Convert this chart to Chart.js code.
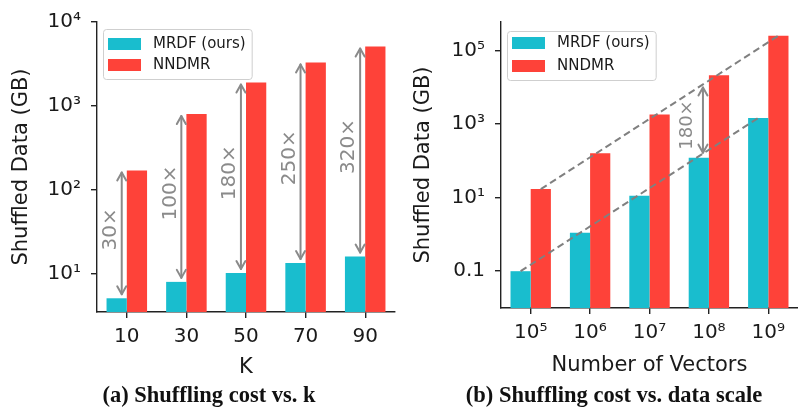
<!DOCTYPE html>
<html>
<head>
<meta charset="utf-8">
<script src="https://cdn.jsdelivr.net/npm/chart.js@4.4.1/dist/chart.umd.min.js"></script>
<style>
  html, body { margin: 0; padding: 0; background: #fff; overflow: hidden; }
  body { width: 798px; height: 410px; position: relative; }
  .panel { position: absolute; top: 0; width: 400px; height: 385px; }
  .caption {
    position: absolute; top: 384px;
    font-family: 'Liberation Serif', 'Times New Roman', serif;
    font-weight: bold; font-size: 22.5px; line-height: 22px; color: #111;
    white-space: nowrap; transform: translateX(-50%);
  }
</style>
</head>
<body>
<div class="panel" style="left:0"><canvas id="chartK"></canvas></div>
<div class="panel" style="left:400px"><canvas id="chartScale"></canvas></div>
<div class="caption" style="left:209px">(a) Shuffling cost vs. k</div>
<div class="caption" style="left:614px">(b) Shuffling cost vs. data scale</div>

<script>
// ---- (a) shuffled data vs. K ----
const kCategories = ['10', '30', '50', '70', '90'];
const kMrdf = [5.1, 8, 10.2, 13.4, 16];
const kNndmr = [170, 800, 1900, 3300, 5100];
const kRatioLabels = ['30×', '100×', '180×', '250×', '320×'];
const kYTicks = [10, 100, 1000, 10000];
const kYTickLabels = ['10¹', '10²', '10³', '10⁴'];

// ---- (b) shuffled data vs. number of vectors ----
const scaleCategories = ['10⁵', '10⁶', '10⁷', '10⁸', '10⁹'];
const scaleMrdf = [0.1, 1.1, 11.3, 120, 1450];
const scaleNndmr = [17, 160, 1800, 21000, 250000];
const scaleYTicks = [0.1, 10, 1000, 100000];
const scaleYTickLabels = ['0.1', '10¹', '10³', '10⁵'];
const scaleGapIndex = 3;
const scaleGapLabel = '180×';

const SERIES_NAMES = ['MRDF (ours)', 'NNDMR'];
const TEAL = '#19bdce';
const RED = '#fe4239';
const GRAY = '#8a8a8a';
const INK = '#1a1a1a';
const AXIS = '#222';
const FONT = "'DejaVu Sans', sans-serif";

function drawDoubleArrow(ctx, x, yTop, yBottom) {
  const hl = 8, hw = 4.5;
  ctx.save();
  ctx.strokeStyle = GRAY;
  ctx.lineWidth = 2;
  ctx.lineCap = 'round';
  ctx.lineJoin = 'round';
  ctx.beginPath();
  ctx.moveTo(x, yTop); ctx.lineTo(x, yBottom);
  ctx.stroke();
  ctx.beginPath();
  ctx.moveTo(x - hw, yTop + hl); ctx.lineTo(x, yTop); ctx.lineTo(x + hw, yTop + hl);
  ctx.stroke();
  ctx.beginPath();
  ctx.moveTo(x - hw, yBottom - hl); ctx.lineTo(x, yBottom); ctx.lineTo(x + hw, yBottom - hl);
  ctx.stroke();
  ctx.restore();
}

function drawVerticalText(ctx, text, x, y, size) {
  ctx.save();
  ctx.translate(x, y);
  ctx.rotate(-Math.PI / 2);
  ctx.font = size + 'px ' + FONT;
  ctx.fillStyle = GRAY;
  ctx.textAlign = 'center';
  ctx.textBaseline = 'middle';
  ctx.fillText(text, 0, 0);
  ctx.restore();
}

// Framed legend placed inside the plot area
const boxedLegend = {
  id: 'boxedLegend',
  afterDraw(chart, args, opts) {
    const ctx = chart.ctx;
    const a = chart.chartArea;
    const x0 = a.left + opts.dx, y0 = a.top + opts.dy;
    ctx.save();
    ctx.font = '15px ' + FONT;
    const items = chart.data.datasets.map(d => ({ label: d.label, color: d.backgroundColor }));
    const tw = Math.max(...items.map(it => ctx.measureText(it.label).width));
    const w = 5 + 33 + 12 + tw + 6;
    const h = opts.height;
    ctx.beginPath();
    ctx.roundRect(x0 + 0.5, y0 + 0.5, w, h, 3);
    ctx.fillStyle = 'rgba(255,255,255,0.85)';
    ctx.fill();
    ctx.strokeStyle = '#cfcfcf';
    ctx.lineWidth = 1;
    ctx.stroke();
    items.forEach((it, i) => {
      const cy = y0 + opts.first + i * opts.gap;
      ctx.fillStyle = it.color;
      ctx.fillRect(x0 + 5, cy - 6, 33, 12);
      ctx.fillStyle = INK;
      ctx.textAlign = 'left';
      ctx.textBaseline = 'middle';
      ctx.fillText(it.label, x0 + 5 + 33 + 12, cy);
    });
    ctx.restore();
  }
};

// Ratio arrows between the two bars of every K
const ratioArrows = {
  id: 'ratioArrows',
  afterDatasetsDraw(chart) {
    const ctx = chart.ctx;
    const xs = chart.scales.x, ys = chart.scales.y;
    const step = xs.getPixelForValue(1) - xs.getPixelForValue(0);
    kCategories.forEach((c, i) => {
      const x = xs.getPixelForValue(i) - 0.085 * step;
      const yHigh = ys.getPixelForValue(kNndmr[i]);
      const yLow = ys.getPixelForValue(kMrdf[i]);
      drawDoubleArrow(ctx, x, yHigh + 2, yLow - 4);
      drawVerticalText(ctx, kRatioLabels[i], x - 11, (yHigh + yLow) / 2 - 5, 20);
    });
  }
};

// Dashed growth lines through the first and last bar of each series, plus the gap arrow
const trendLines = {
  id: 'trendLines',
  afterDatasetsDraw(chart) {
    const ctx = chart.ctx;
    const lines = [1, 0].map(d => {
      const bars = chart.getDatasetMeta(d).data;
      const p0 = bars[0], p1 = bars[bars.length - 1];
      return { x0: p0.x, y0: p0.y, x1: p1.x, y1: p1.y };
    });
    ctx.save();
    ctx.strokeStyle = '#808080';
    ctx.lineWidth = 2;
    ctx.setLineDash([7, 4]);
    lines.forEach(l => {
      ctx.beginPath();
      ctx.moveTo(l.x0, l.y0);
      ctx.lineTo(l.x1, l.y1);
      ctx.stroke();
    });
    ctx.restore();

    const xs = chart.scales.x;
    const step = xs.getPixelForValue(1) - xs.getPixelForValue(0);
    const x = xs.getPixelForValue(scaleGapIndex) - 0.1 * step;
    const yAt = l => l.y0 + (l.y1 - l.y0) * (x - l.x0) / (l.x1 - l.x0);
    const yTop = yAt(lines[0]), yBottom = yAt(lines[1]);
    drawDoubleArrow(ctx, x, yTop + 3, yBottom - 1);
    drawVerticalText(ctx, scaleGapLabel, x - 16, (yTop + yBottom) / 2 + 6, 18);
  }
};

function axisLineStyle() {
  return {
    grid: { display: true, drawOnChartArea: false, drawTicks: true, tickLength: 6,
            offset: false, color: AXIS, lineWidth: 1.4, tickWidth: 1.4 },
    border: { display: true, color: AXIS, width: 1.4 }
  };
}

function makeChart(id, cfg) {
  const line = axisLineStyle();
  return new Chart(document.getElementById(id), {
    type: 'bar',
    data: {
      labels: cfg.categories,
      datasets: [
        { label: SERIES_NAMES[0], data: cfg.mrdf, backgroundColor: TEAL, borderWidth: 0 },
        { label: SERIES_NAMES[1], data: cfg.nndmr, backgroundColor: RED, borderWidth: 0 }
      ]
    },
    options: {
      responsive: true,
      maintainAspectRatio: false,
      animation: false,
      events: [],
      categoryPercentage: 0.68,
      barPercentage: 1.0,
      layout: { padding: cfg.padding },
      plugins: {
        legend: { display: false },
        tooltip: { enabled: false },
        boxedLegend: cfg.legend
      },
      scales: {
        x: {
          type: 'category',
          offset: true,
          grid: line.grid,
          border: line.border,
          ticks: { font: { family: FONT, size: 20 }, color: INK, padding: 7,
                   maxRotation: 0, autoSkip: false },
          title: { display: true, text: cfg.xTitle, color: INK,
                   font: { family: FONT, size: 21 },
                   padding: { top: 0, bottom: cfg.xTitlePad } },
          afterFit: s => { s.height = cfg.xHeight; }
        },
        y: {
          type: 'logarithmic',
          min: cfg.yMin,
          max: cfg.yMax,
          grid: line.grid,
          border: line.border,
          ticks: { font: { family: FONT, size: 20 }, color: INK, padding: 10,
                   callback: (v, i) => cfg.yTickLabels[i] },
          afterBuildTicks: s => { s.ticks = cfg.yTicks.map(v => ({ value: v })); },
          title: { display: true, text: 'Shuffled Data (GB)', color: INK,
                   font: { family: FONT, size: 21 },
                   padding: { top: cfg.yTitlePad, bottom: 0 } },
          afterFit: s => { s.width = cfg.yWidth; }
        }
      }
    },
    plugins: [boxedLegend].concat(cfg.extra)
  });
}

makeChart('chartK', {
  categories: kCategories, mrdf: kMrdf, nndmr: kNndmr,
  yMin: 3.5, yMax: 10000, yTicks: kYTicks, yTickLabels: kYTickLabels,
  xTitle: 'K', xTitlePad: 5, xHeight: 73, yWidth: 97, yTitlePad: 9,
  padding: { top: 16, right: 5, left: 0, bottom: 0 },
  legend: { dx: 6, dy: 7, first: 15, gap: 21, height: 50 },
  extra: [ratioArrows]
});

makeChart('chartScale', {
  categories: scaleCategories, mrdf: scaleMrdf, nndmr: scaleNndmr,
  yMin: 0.01, yMax: 590000, yTicks: scaleYTicks, yTickLabels: scaleYTickLabels,
  xTitle: 'Number of Vectors', xTitlePad: 7, xHeight: 77, yWidth: 101, yTitlePad: 11,
  padding: { top: 13, right: 2, left: 0, bottom: 0 },
  legend: { dx: 6, dy: 9, first: 12, gap: 23, height: 49 },
  extra: [trendLines]
});
</script>
</body>
</html>
